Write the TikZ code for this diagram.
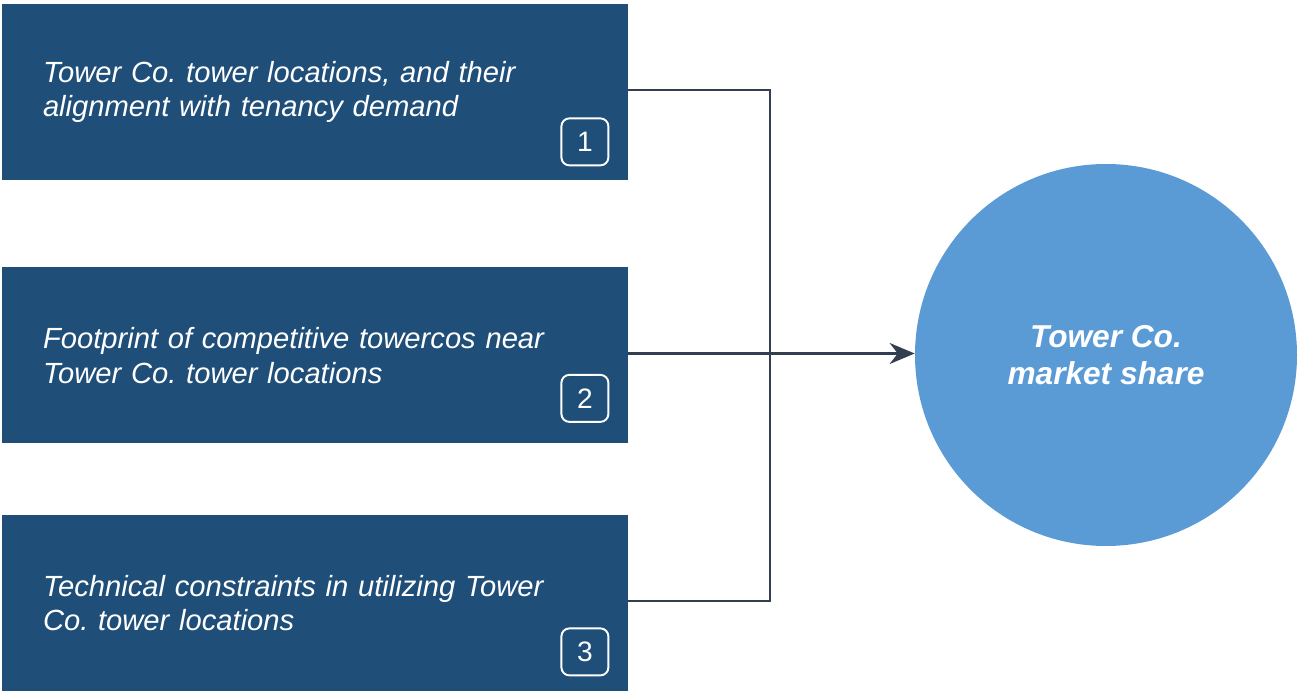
\documentclass[tikz,border=0pt]{standalone}
\usepackage{fontspec}
\setmainfont{Liberation Sans}
\usetikzlibrary{positioning,arrows.meta}
\frenchspacing

\definecolor{boxblue}{HTML}{1F4E79}
\definecolor{ballblue}{HTML}{5B9BD5}
\definecolor{wire}{HTML}{333F50}

\tikzset{
  driver/.style={fill=boxblue, text=white, minimum height=3.52cm, text width=10.88cm,
    inner xsep=0.82cm, align=left, font=\fontsize{16.6}{19.8}\selectfont\itshape},
  badge/.style={draw=white, line width=1.1pt, rounded corners=0.16cm, minimum size=0.94cm,
    inner sep=0pt, text=white, font=\fontsize{16}{19}\selectfont},
  link/.style={draw=wire, line width=1.2pt},
  feed/.style={draw=wire, line width=1.7pt, -{Stealth[length=0.5cm,width=0.42cm]}}
}

\begin{document}
\begin{tikzpicture}
  \useasboundingbox (0,0) rectangle (25.98,-13.84);

  % three drivers
  \node[driver] (b1) at (6.3,-1.84) {Tower Co. tower locations, and their\\alignment with tenancy demand};
  \node[driver] (b2) at (6.3,-7.11) {Footprint of competitive towercos near\\Tower Co. tower locations};
  \node[driver] (b3) at (6.3,-12.06) {Technical constraints in utilizing Tower\\Co. tower locations};

  \node[badge, above left=0.28cm and 0.38cm of b1.south east] (n1) {1};
  \node[badge, above left=0.42cm and 0.38cm of b2.south east] (n2) {2};
  \node[badge, above left=0.30cm and 0.38cm of b3.south east] (n3) {3};

  % outcome
  \node[circle, fill=ballblue, minimum size=7.64cm, inner sep=0pt, text=white, align=center,
    font=\fontsize{18}{21}\selectfont\bfseries\itshape] (share) at (22.12,-7.1) {Tower Co.\\market share};

  \coordinate (j) at (15.4,-7.07);
  \draw[link] (b1.east |- 0,-1.8) -| (j) |- (b3.east |- 0,-12.02);
  \draw[link] (b2.east |- j) -- (j);
  \draw[feed] (j) -- (share.west |- j);
\end{tikzpicture}
\end{document}
